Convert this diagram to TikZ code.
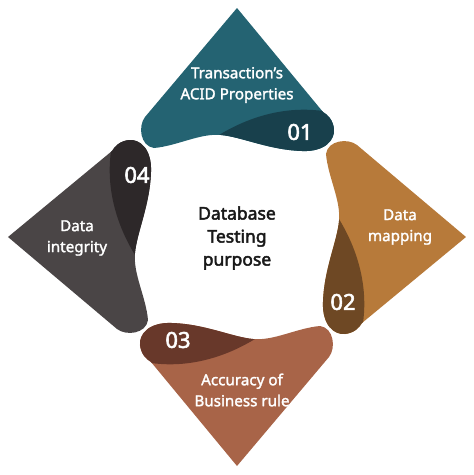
\documentclass[tikz,border=0pt]{standalone}
\usepackage{fontspec}
\setmainfont{Noto Sans}
\newfontfamily\semib{Noto Sans}[FakeBold=1.8]
\newfontfamily\heavyb{Noto Sans}[FakeBold=2.6]
\definecolor{tealL}{RGB}{36,99,114}
\definecolor{tealD}{RGB}{24,64,76}
\definecolor{orgL}{RGB}{183,122,58}
\definecolor{orgD}{RGB}{110,72,36}
\definecolor{brkL}{RGB}{168,100,72}
\definecolor{brkD}{RGB}{104,56,42}
\definecolor{gryL}{RGB}{74,69,70}
\definecolor{gryD}{RGB}{45,40,41}
\newcommand\petalshape[3]{%
  \begin{scope}[rotate=#1]
    \fill[#2] (0,229) -- (-92,120) .. controls (-99,111) and (-97,91) .. (-83,89)
      .. controls (-60,91) and (-37,104) .. (-16,102)
      .. controls (5,100) and (32,87) .. (65,86)
      .. controls (88,85) and (98,97) .. (97,108)
      .. controls (96,117) and (91,122) .. (86,125) -- cycle;
    \begin{scope}
      \clip (0,229) -- (-92,120) .. controls (-99,111) and (-97,91) .. (-83,89)
        .. controls (-60,91) and (-37,104) .. (-16,102)
        .. controls (5,100) and (32,87) .. (65,86)
        .. controls (88,85) and (98,97) .. (97,108)
        .. controls (96,117) and (91,122) .. (86,125) -- cycle;
      \fill[#3] (-18,102) .. controls (5,116) and (42,132) .. (86,126)
        -- (140,126) -- (140,50) -- (-18,50) -- cycle;
    \end{scope}
  \end{scope}}
\tikzset{
  lbl/.style={text=white, font=\semib\fontsize{15.2}{21}\selectfont, align=center, inner sep=0pt},
  num/.style={text=white, font=\heavyb\fontsize{22}{22}\selectfont, inner sep=0pt},
  ctr/.style={text=black!90, font=\heavyb\fontsize{17.5}{23}\selectfont, align=center, inner sep=0pt}
}
\begin{document}
\begin{tikzpicture}[x=1pt,y=1pt]
\useasboundingbox (-237,-238) rectangle (237,237);
\petalshape{0}{tealL}{tealD}
\petalshape{-90}{orgL}{orgD}
\petalshape{180}{brkL}{brkD}
\petalshape{90}{gryL}{gryD}
\node[lbl] (t1) at (0,152) {Transaction’s\\ACID Properties};
\node[lbl] (t2) at (163,10) {Data\\mapping};
\node[lbl] (t3) at (5,-153) {Accuracy of\\Business rule};
\node[lbl] (t4) at (-160,-1) {Data\\integrity};
\node[num] (n1) at (63,105) {01};
\node[num] (n2) at (106,-65) {02};
\node[num] (n3) at (-59,-103) {03};
\node[num] (n4) at (-100,62) {04};
\node[ctr] (c) at (0,-1) {Database\\Testing\\purpose};
\end{tikzpicture}
\end{document}
